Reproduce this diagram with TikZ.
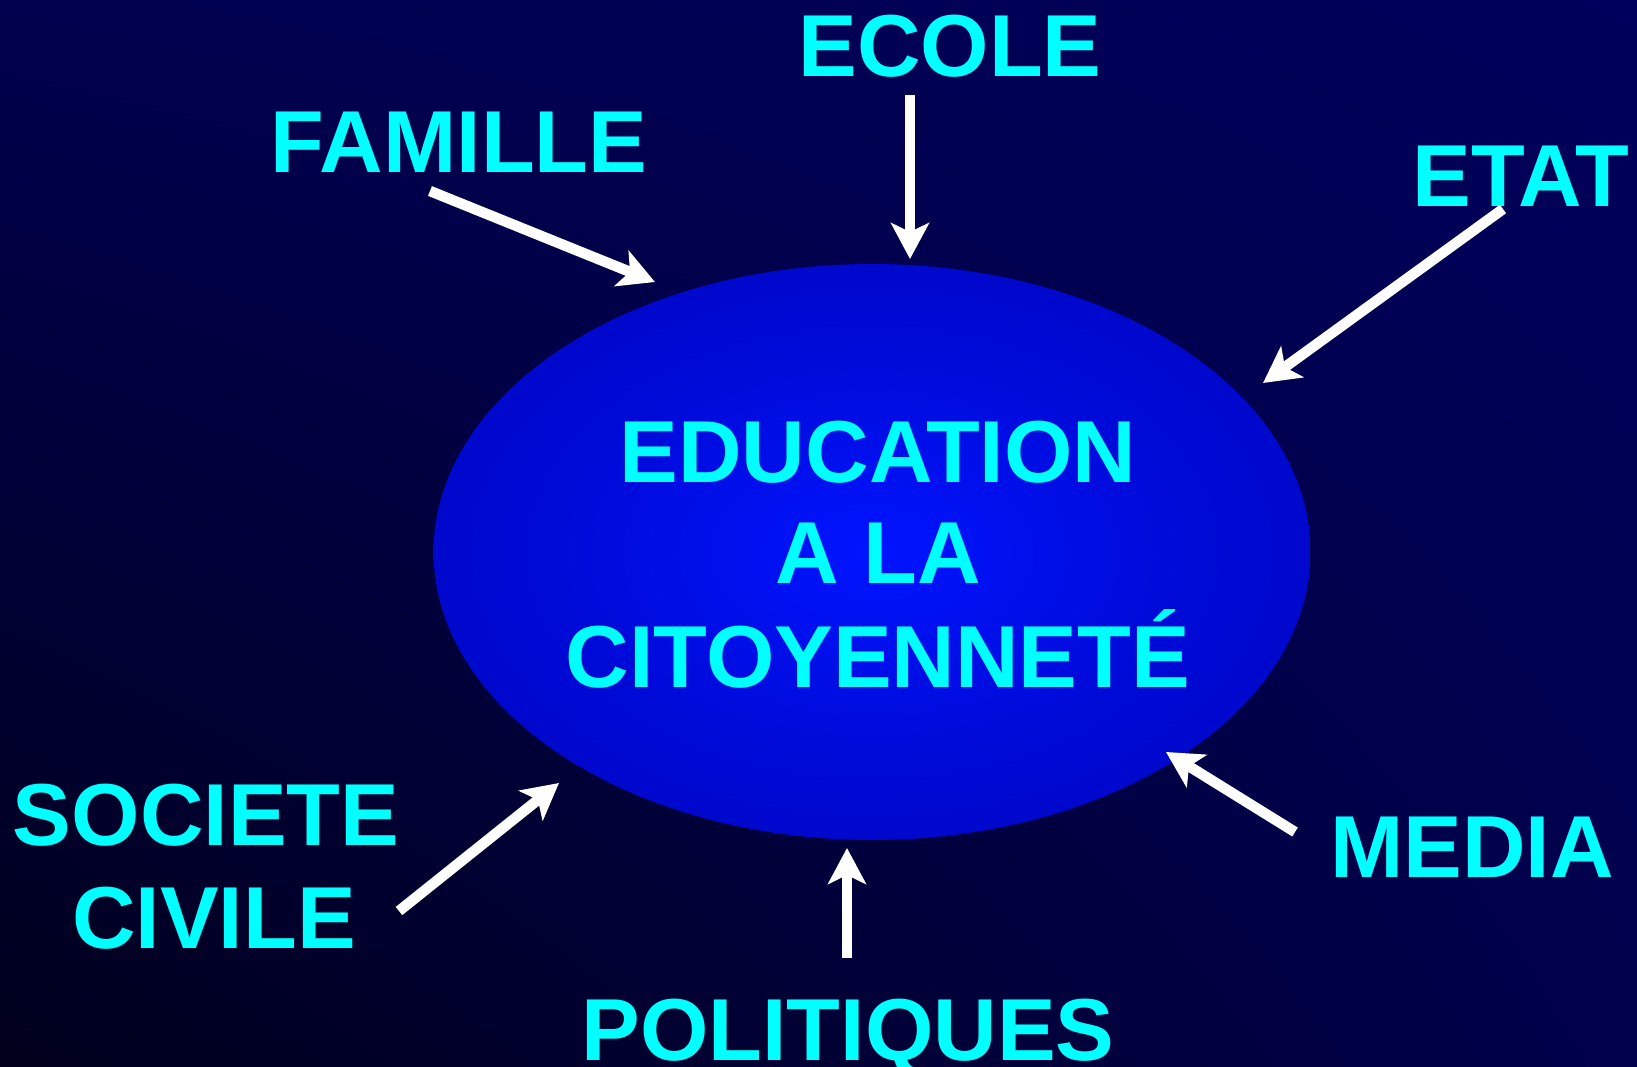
\documentclass[tikz,border=0pt]{standalone}
\usepackage{fontspec}
\setmainfont{Liberation Sans}
\usetikzlibrary{arrows.meta,shadings}
\definecolor{txt}{RGB}{0,255,255}
\definecolor{ellin}{RGB}{0,20,255}
\definecolor{ellmid}{RGB}{0,10,215}
\definecolor{ellout}{RGB}{0,0,170}
\definecolor{bgul}{RGB}{0,0,78}
\definecolor{bgur}{RGB}{0,0,92}
\definecolor{bgll}{RGB}{0,0,28}
\definecolor{bglr}{RGB}{0,0,76}
\pgfdeclareradialshading{ellshade}{\pgfpoint{0bp}{0bp}}{color(0bp)=(ellin); color(18bp)=(ellmid); color(50bp)=(ellout); color(70bp)=(ellout)}
\tikzset{
  lbl/.style={text=txt, font=\fontsize{88}{96}\selectfont\bfseries, inner sep=0pt, anchor=base},
  arr/.style={draw=white, line width=10.5pt, -{Stealth[length=36pt, width=38pt, inset=9pt]}}
}
\begin{document}
\begin{tikzpicture}[x=1pt,y=-1pt]
\useasboundingbox (0,0) rectangle (1637,1066);
\shade[upper left=bgul, upper right=bgur, lower left=bgll, lower right=bglr]
  (0,0) rectangle (1637,1066);
\shade[shading=ellshade] (872,552) ellipse [x radius=438.5, y radius=288];
% labels
\node[lbl] (ecole) at (950,76) {ECOLE};
\node[lbl] (famille) at (459,172) {FAMILLE};
\node[lbl] (etat) at (1521,206) {ETAT};
\node[lbl] (edu1) at (878,482) {EDUCATION};
\node[lbl] (edu2) at (878,583) {A LA};
\node[lbl] (edu3) at (878,687) {CITOYENNETÉ};
\node[lbl] (soc1) at (206,845) {SOCIETE};
\node[lbl] (soc2) at (214,948) {CIVILE};
\node[lbl] (media) at (1472,877) {MEDIA};
\node[lbl] (pol) at (848,1060) {POLITIQUES};
% arrow ends
\coordinate (famS) at (430,191);  \coordinate (famE) at (655,282);
\coordinate (ecoS) at (910,95);   \coordinate (ecoE) at (910,259);
\coordinate (etaS) at (1503,209); \coordinate (etaE) at (1263,383);
\coordinate (socS) at (399,911);  \coordinate (socE) at (559,783);
\coordinate (medS) at (1295,832); \coordinate (medE) at (1166,752);
\coordinate (polS) at (847,958);  \coordinate (polE) at (847,848);
\draw[arr] (famS) -- (famE);
\draw[arr] (ecoS) -- (ecoE);
\draw[arr] (etaS) -- (etaE);
\draw[arr] (socS) -- (socE);
\draw[arr] (medS) -- (medE);
\draw[arr] (polS) -- (polE);
\end{tikzpicture}
\end{document}
